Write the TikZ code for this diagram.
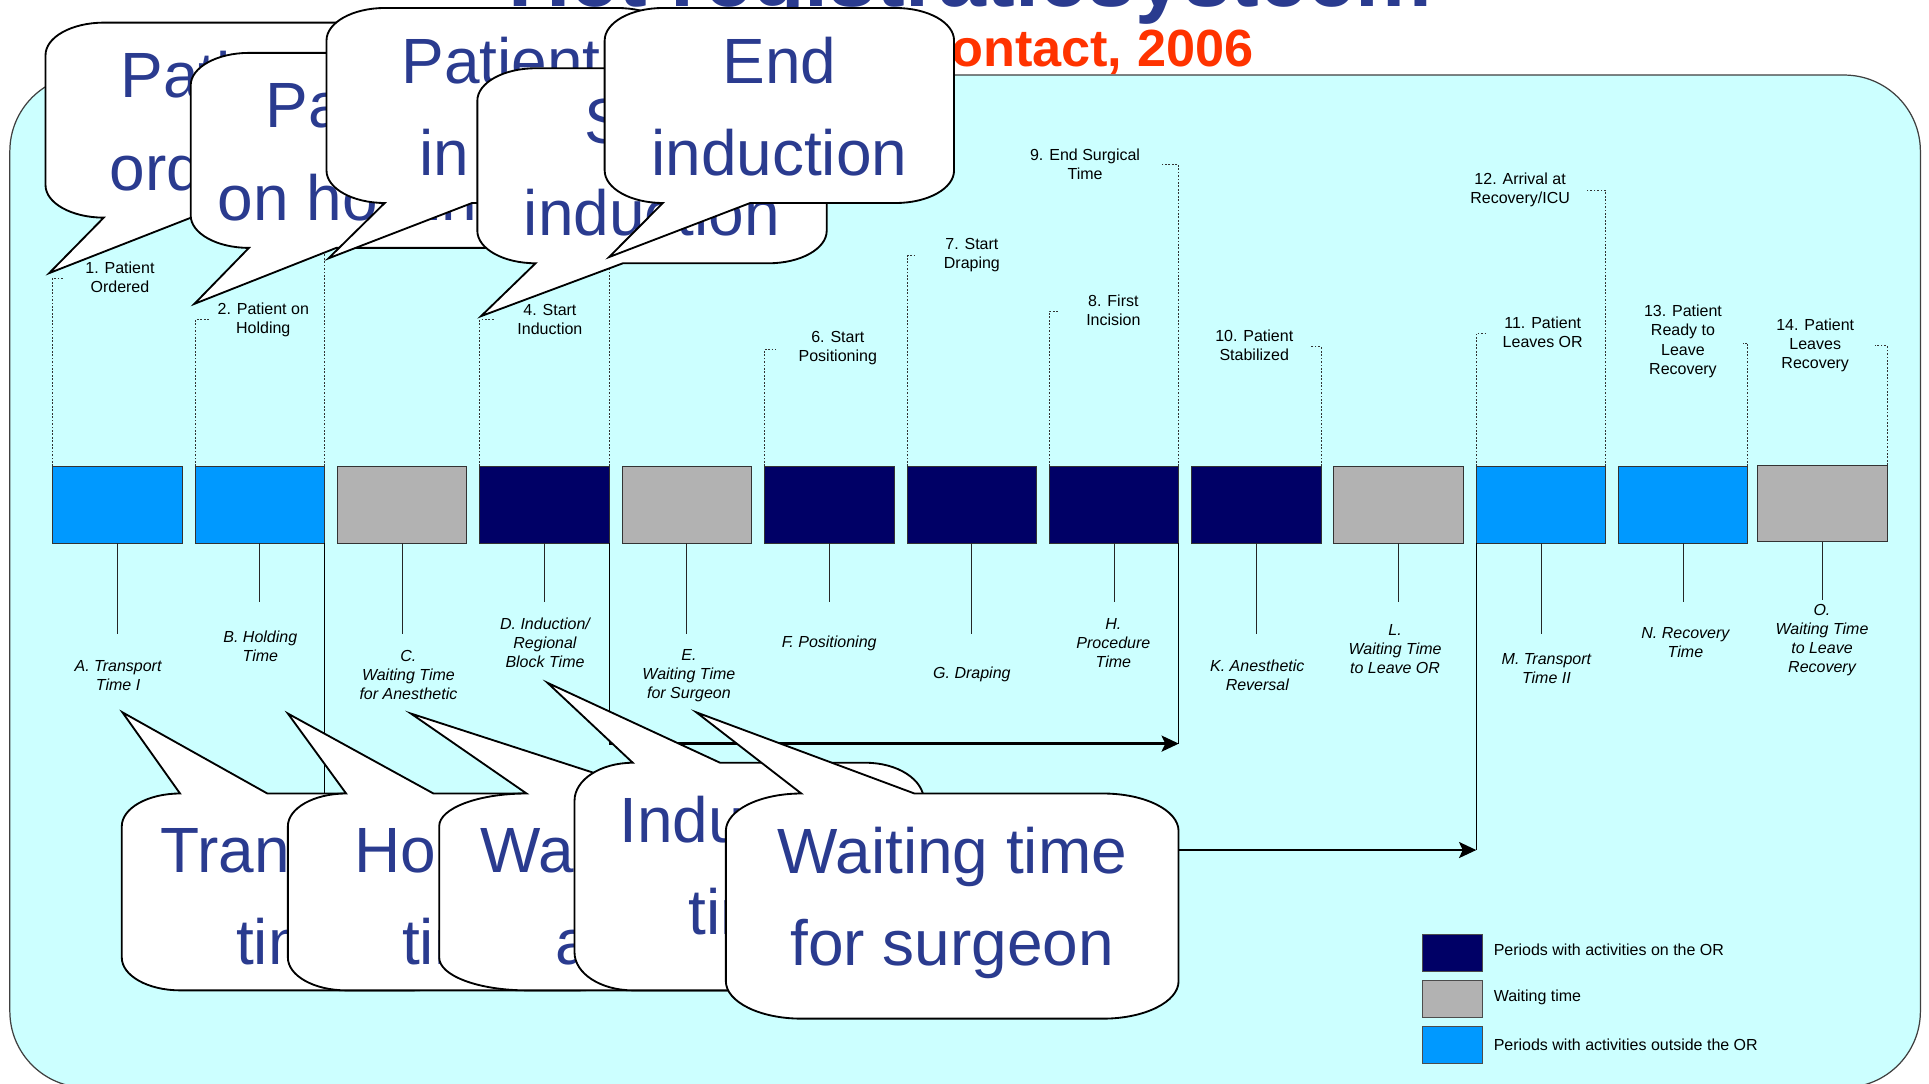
\documentclass[tikz,border=0pt]{standalone}
\usepackage{fontspec}
\setmainfont{Liberation Sans}
\usetikzlibrary{arrows.meta}
\definecolor{panel}{HTML}{CCFFFF}
\definecolor{navy}{HTML}{000066}
\definecolor{sky}{HTML}{0099FF}
\definecolor{wgray}{HTML}{B2B2B2}
\definecolor{cblue}{HTML}{2A3B8F}
\definecolor{tred}{HTML}{FF3300}
\tikzset{
  tbox/.style={draw=black!80, line width=0.8pt, minimum width=105.2pt, minimum height=62.5pt, inner sep=0pt, outer sep=0pt},
  evlabel/.style={font=\fontsize{13}{15.5}\selectfont, align=center, inner sep=0pt},
  perlabel/.style={font=\fontsize{13}{15.5}\selectfont\itshape, align=center, inner sep=0pt},
  dotline/.style={black!80, line width=0.7pt, dash pattern=on 1.4pt off 1.4pt},
  stem/.style={black!85, line width=0.8pt},
  spanline/.style={black, line width=0.9pt},
  spanarrow/.style={black, line width=2pt, -{Stealth[length=14pt,width=13pt,inset=3pt]}},
  cshape/.style={fill=white, draw=black, line width=1.5pt, line join=miter},
  ctext/.style={font=\fontsize{52}{60}\selectfont, text=cblue, inner sep=0pt, anchor=base},
  legbox/.style={draw=black!70, line width=0.8pt, minimum width=49pt, minimum height=30pt, inner sep=0pt},
  legtext/.style={font=\fontsize{13}{15.5}\selectfont, anchor=west, inner sep=0pt},
}
% callout with tail below: x0 y0 w h tipx tipy
\newcommand\calloutdown[6]{%
  \pgfmathsetmacro\cxa{#1}\pgfmathsetmacro\cya{#2}%
  \pgfmathsetmacro\cxb{#1+#3}\pgfmathsetmacro\cyb{#2+#4}%
  \pgfmathsetmacro\cym{#2+#4/2}%
  \pgfmathsetmacro\crx{#3/6}\pgfmathsetmacro\cry{#4/6}%
  \pgfmathsetmacro\cqx{0.448*#3/6}\pgfmathsetmacro\cqy{0.448*#4/6}%
  \pgfmathsetmacro\cta{#1+#3/6}\pgfmathsetmacro\ctb{#1+5*#3/12}%
  \draw[cshape] (\cxa,\cym) -- (\cxa,\cya+\cry)
    .. controls (\cxa,\cya+\cqy) and (\cxa+\cqx,\cya) .. (\cxa+\crx,\cya)
    -- (\cxb-\crx,\cya)
    .. controls (\cxb-\cqx,\cya) and (\cxb,\cya+\cqy) .. (\cxb,\cya+\cry)
    -- (\cxb,\cyb-\cry)
    .. controls (\cxb,\cyb-\cqy) and (\cxb-\cqx,\cyb) .. (\cxb-\crx,\cyb)
    -- (\ctb,\cyb) -- (#5,#6) -- (\cta,\cyb)
    .. controls (\cxa+\cqx,\cyb) and (\cxa,\cyb-\cqy) .. (\cxa,\cyb-\cry)
    -- cycle;
}
% callout with tail above: x0 y0 w h tipx tipy
\newcommand\calloutup[6]{%
  \pgfmathsetmacro\cxa{#1}\pgfmathsetmacro\cya{#2}%
  \pgfmathsetmacro\cxb{#1+#3}\pgfmathsetmacro\cyb{#2+#4}%
  \pgfmathsetmacro\cym{#2+#4/2}%
  \pgfmathsetmacro\crx{#3/6}\pgfmathsetmacro\cry{#4/6}%
  \pgfmathsetmacro\cqx{0.448*#3/6}\pgfmathsetmacro\cqy{0.448*#4/6}%
  \pgfmathsetmacro\cta{#1+#3/6}\pgfmathsetmacro\ctb{#1+5*#3/12}%
  \draw[cshape] (\cxa,\cym) -- (\cxa,\cya+\cry)
    .. controls (\cxa,\cya+\cqy) and (\cxa+\cqx,\cya) .. (\cta,\cya)
    -- (#5,#6) -- (\ctb,\cya)
    -- (\cxb-\crx,\cya)
    .. controls (\cxb-\cqx,\cya) and (\cxb,\cya+\cqy) .. (\cxb,\cya+\cry)
    -- (\cxb,\cyb-\cry)
    .. controls (\cxb,\cyb-\cqy) and (\cxb-\cqx,\cyb) .. (\cxb-\crx,\cyb)
    -- (\cxa+\crx,\cyb)
    .. controls (\cxa+\cqx,\cyb) and (\cxa,\cyb-\cqy) .. (\cxa,\cyb-\cry)
    -- cycle;
}
\begin{document}
\begin{tikzpicture}[x=1pt,y=-1pt]
\useasboundingbox (0,0) rectangle (1568,881);
\clip (0,0) rectangle (1568,881);
\fill[white] (0,0) rectangle (1568,881);
% panel
\draw[fill=panel, draw=black!75, line width=1pt, rounded corners=62pt] (8,61) rectangle (1561,884);

% timeline boxes
\foreach \nm/\xc/\col in {A/95.6/sky, B/211.3/sky, C/326.9/wgray, D/442.6/navy, E/558.2/wgray, F/674.1/navy, G/789.9/navy, H/905.6/navy, K/1021.3/navy, L/1136.8/wgray, M/1252.6/sky, N/1368.1/sky}
  \node[tbox, fill=\col] (b\nm) at (\xc,410.2) {};
\node[tbox, fill=wgray] (bO) at (1481.3,409.3) {};

% stems below boxes
\foreach \nm/\len in {A/74, B/47.5, C/74, D/47.5, E/74, F/47.5, G/74, H/47.5, K/74, L/47.5, M/74, N/47.5, O/47.5}
  \draw[stem] (b\nm.south) -- ++(0,\len);

% span brackets
\draw[spanline] (bD.south east) -- ++(0,163) coordinate (s1);
\draw[spanline] (bH.south east) -- ++(0,163) coordinate (e1);
\draw[spanarrow] (s1) -- (e1);
\draw[spanline] (bB.south east) -- ++(0,249.5) coordinate (s2);
\draw[spanline] (bM.south west) -- ++(0,249.5) coordinate (e2);
\draw[spanarrow] (s2) -- (e2);

% dotted event leaders
\draw[dotline] (bA.north west) |- ++(9,-153);
\draw[dotline] (bB.north west) |- ++(11,-119);
\draw[dotline] (bB.north east) -- ++(0,-180);
\draw[dotline] (bD.north west) |- ++(12,-119);
\draw[dotline] (bD.north east) -- ++(0,-180);
\draw[dotline] (bF.north west) |- ++(9,-95);
\draw[dotline] (bG.north west) |- ++(8,-171);
\draw[dotline] (bH.north west) |- ++(8,-126);
\draw[dotline] (bH.north east) |- ++(-14,-245);
\draw[dotline] (bK.north east) |- ++(-9,-97);
\draw[dotline] (bM.north west) |- ++(8,-108);
\draw[dotline] (bM.north east) |- ++(-16,-224);
\draw[dotline] (bN.north east) |- ++(-4,-100);
\draw[dotline] (bO.north east) |- ++(-10,-97);

% event labels
\node[evlabel] (e1l) at (97.5,225.5) {1. Patient\\Ordered};
\node[evlabel] (e2l) at (214,260) {2. Patient on\\Holding};
\node[evlabel] (e4l) at (447,260) {4. Start\\Induction};
\node[evlabel] (e6l) at (681,283.3) {6. Start\\Positioning};
\node[evlabel] (e7l) at (790,207.3) {7. Start\\Draping};
\node[evlabel] (e8l) at (905,252) {8. First\\Incision};
\node[evlabel] (e9l) at (882,133.3) {9. End Surgical\\Time};
\node[evlabel] (e10l) at (1019.5,281) {10. Patient\\Stabilized};
\node[evlabel] (e11l) at (1254,270) {11. Patient\\Leaves OR};
\node[evlabel] (e12l) at (1235.6,154.5) {12. Arrival at\\Recovery/ICU};
\node[evlabel] (e13l) at (1368,277.5) {13. Patient\\Ready to\\Leave\\Recovery};
\node[evlabel] (e14l) at (1475.5,281) {14. Patient\\Leaves\\Recovery};

% period labels
\node[perlabel] (pA) at (96,549) {A. Transport\\Time I};
\node[perlabel] (pB) at (211.6,525.5) {B. Holding\\Time};
\node[perlabel] (pC) at (332,549) {C.\\Waiting Time\\for Anesthetic};
\node[perlabel] (pD) at (443,522.7) {D. Induction/\\Regional\\Block Time};
\node[perlabel] (pE) at (560,549) {E.\\Waiting Time\\for Surgeon};
\node[perlabel] (pF) at (674,523) {F. Positioning};
\node[perlabel] (pG) at (790,548.5) {G. Draping};
\node[perlabel] (pH) at (905,522.7) {H.\\Procedure\\Time};
\node[perlabel] (pK) at (1022,549) {K. Anesthetic\\Reversal};
\node[perlabel] (pL) at (1134,527.5) {L.\\Waiting Time\\to Leave OR};
\node[perlabel] (pM) at (1257,543.5) {M. Transport\\Time II};
\node[perlabel] (pN) at (1370,522.5) {N. Recovery\\Time};
\node[perlabel] (pO) at (1481,520.5) {O.\\Waiting Time\\to Leave\\Recovery};

% legend
\node[legbox, fill=navy] (lg1) at (1180.5,775) {};
\node[legbox, fill=wgray] (lg2) at (1180.5,812) {};
\node[legbox, fill=sky] (lg3) at (1180.5,849.5) {};
\node[legtext] (lt1) at (1214,772) {Periods with activities on the OR};
\node[legtext] (lt2) at (1214,811) {Waiting time};
\node[legtext] (lt3) at (1214,849) {Periods with activities outside the OR};

% title and subtitle
\node[anchor=base west, font=\fontsize{70}{80}\selectfont\bfseries, text=cblue, inner sep=0pt] (title) at (413,5.3) {Het registratiesysteem};
\node[anchor=base east, font=\fontsize{42.5}{50}\selectfont\bfseries, text=tred, inner sep=0pt] (subtitle) at (1019,54) {contact, 2006};

% top callouts
\calloutdown{37}{18.4}{284}{158.5}{40}{222}
\node[ctext] (t1a) at (179,79.4) {Patient};
\node[ctext] (t1b) at (179,154.5) {ordered};
\calloutdown{155}{43}{284}{158.5}{158}{247}
\node[ctext] (t2a) at (297,104) {Patient};
\node[ctext] (t2b) at (297,179) {on holding};
\calloutdown{265.4}{6.5}{284}{158.5}{267}{210}
\node[ctext] (t3a) at (407.4,67.5) {Patient};
\node[ctext] (t3b) at (407.4,142.5) {in OR};
\calloutdown{388}{55.5}{284}{158.5}{391}{257}
\node[ctext] (t4a) at (530,116.5) {Start};
\node[ctext] (t4b) at (530,191.5) {induction};
\calloutdown{491.5}{6.5}{284}{158.5}{495}{209}
\node[ctext] (t5a) at (633.5,67.5) {End};
\node[ctext] (t5b) at (633.5,142.5) {induction};

% bottom callouts
\calloutup{99}{645}{284}{160}{99.5}{579}
\node[ctext] (b1a) at (241,709) {Transport};
\node[ctext] (b1b) at (241,784) {time};
\calloutup{234}{645}{284}{160}{234}{580}
\node[ctext] (b2a) at (376,709) {Holding};
\node[ctext] (b2b) at (376,784) {time};
\calloutup{357}{645}{426}{160}{334}{580}
\node[ctext] (b3a) at (570,709) {Waiting time for};
\node[ctext] (b3b) at (570,784) {anesthetic};
\calloutup{467}{620}{284}{185}{445}{555}
\node[ctext] (b4a) at (609,685) {Induction};
\node[ctext] (b4b) at (609,760) {time};
\calloutup{590}{645}{368}{183}{566}{579}
\node[ctext] (b5a) at (774,710) {Waiting time};
\node[ctext] (b5b) at (774,785) {for surgeon};
\end{tikzpicture}
\end{document}
